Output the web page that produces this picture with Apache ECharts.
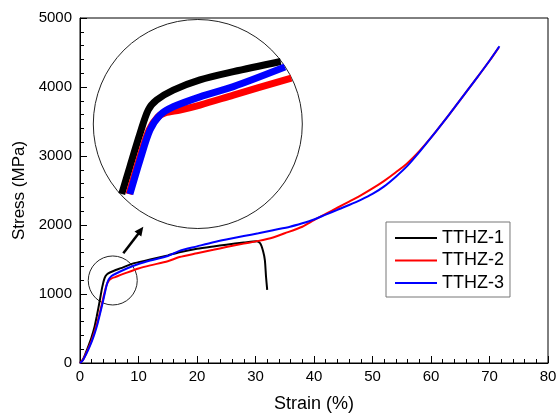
<!DOCTYPE html>
<html>
<head>
<meta charset="utf-8">
<script src="https://cdn.jsdelivr.net/npm/echarts@6/dist/echarts.min.js"></script>
<style>
  html, body { margin: 0; padding: 0; background: #fff; }
  #chart { width: 556px; height: 416px; }
</style>
</head>
<body>
<div id="chart"></div>
<script>
  // [strain %, stress MPa]
  var tthz1 = [[0,0],[0.5,50],[1,150],[1.5,260],[2,380],[2.5,530],[2.85,670],[3.4,913],[3.8,1100],[4.2,1230],
    [4.6,1285],[5.2,1315],[7,1375],[9,1440],[10,1460],[12,1500],[15,1560],[17,1605],[20,1655],[22.8,1690],
    [25,1715],[28,1745],[30.2,1765],[30.8,1735],[31.3,1620],[31.6,1490],[31.8,1250],[32,1060]];
  var tthz2 = [[0,0],[0.5,45],[1,130],[1.5,225],[2,330],[2.5,455],[3,600],[3.5,770],[4,950],[4.5,1120],
    [4.9,1190],[5.4,1225],[6,1245],[8,1310],[10,1370],[12,1415],[15,1475],[17,1535],[20,1590],[22.8,1640],[25,1680],
    [28,1730],[30.5,1770],[33,1820],[35,1880],[38,1975],[40,2070],[42,2160],[44,2250],[46,2340],
    [48,2430],[50,2530],[52,2640],[54,2765],[56,2900],[58,3070],[60,3265],[62,3480],[64,3700],[66,3925],
    [68,4150],[70,4380],[71.6,4575]];
  var tthz3 = [[0,0],[0.5,40],[1,120],[1.5,210],[2,310],[2.5,430],[3,570],[3.5,740],[4,920],[4.5,1110],
    [4.9,1210],[5.4,1260],[6,1290],[8,1370],[10,1435],[12,1485],[15,1550],[17,1625],[20,1690],[22.8,1750],[25,1790],
    [28,1840],[30.5,1880],[33,1925],[35.9,1975],[38,2025],[40,2080],[42,2150],[44,2220],[46,2290],[48,2365],
    [50,2450],[52,2560],[54,2700],[56,2860],[58,3055],[60,3265],[62,3480],[64,3700],[66,3925],[68,4150],
    [70,4380],[71.7,4590]];

  // magnified view inside the big circle
  var inset1 = [[2.52,956],[2.85,1050],[3.26,1164],[3.59,1244],[3.93,1278],[4.6,1312],[5.68,1347],[7.03,1375],[8.94,1410]];
  var inset2 = [[2.81,956],[3.22,1073],[3.62,1175],[3.98,1220],[4.27,1234],[4.87,1244],[5.68,1261],[7.03,1295],[9.37,1353]];
  var inset3 = [[2.85,956],[3.26,1073],[3.66,1175],[4.07,1227],[4.6,1255],[5.68,1289],[7.03,1324],[9.11,1391]];

  var zoomCenter = [5.6, 1196];
  var names = ['TTHZ-1', 'TTHZ-2', 'TTHZ-3'];
  var colors = ['#000000', '#ff0000', '#0000ff'];
  var font = 'Liberation Sans, Arial, sans-serif';

  var chart = echarts.init(document.getElementById('chart'));

  function axisStyle(name, gap, nameSize) {
    return {
      type: 'value',
      name: name,
      nameLocation: 'middle',
      nameGap: gap,
      nameTextStyle: { fontSize: nameSize, color: '#000', fontFamily: font },
      axisLine: { show: true, lineStyle: { color: '#000', width: 1 } },
      axisTick: { show: true, inside: true, length: 7, lineStyle: { color: '#000' } },
      minorTick: { show: true, splitNumber: 5, length: 4, lineStyle: { color: '#000' } },
      axisLabel: { fontSize: 15, color: '#000', fontFamily: font, formatter: function (v) { return String(v); } },
      splitLine: { show: false }
    };
  }

  var xMain = axisStyle('Strain (%)', 32, 18);
  xMain.min = 0; xMain.max = 80; xMain.interval = 10; xMain.gridIndex = 0;
  xMain.axisLabel.margin = 6;
  var yMain = axisStyle('Stress (MPa)', 48, 17);
  yMain.min = 0; yMain.max = 5000; yMain.interval = 1000; yMain.gridIndex = 0;
  yMain.axisLabel.margin = 8;

  function mainSeries(i, data) {
    return {
      name: names[i], type: 'line', data: data,
      xAxisIndex: 0, yAxisIndex: 0,
      symbol: 'none', showSymbol: false,
      smooth: 0.25,
      lineStyle: { width: 2, color: colors[i] },
      itemStyle: { color: colors[i] }
    };
  }
  function insetSeries(i, data) {
    return {
      name: names[i], type: 'line', data: data,
      xAxisIndex: 1, yAxisIndex: 1,
      symbol: 'none', showSymbol: false,
      smooth: 0.3, clip: false,
      lineStyle: { width: 7, color: colors[i], cap: 'butt' },
      itemStyle: { color: colors[i] }
    };
  }

  chart.setOption({
    animation: false,
    grid: [
      { left: 80, top: 18, right: 8, bottom: 53, show: true, borderColor: '#000', borderWidth: 1,
        containLabel: false, outerBoundsMode: 'none' },
      { left: 94, top: 20, width: 208, height: 208, containLabel: false, outerBoundsMode: 'none' }
    ],
    legend: {
      data: names.map(function (n) { return { name: n, icon: 'rect' }; }),
      orient: 'vertical',
      left: 386, top: 222,
      itemWidth: 42, itemHeight: 2, itemGap: 2.5,
      padding: [6, 6, 4, 9],
      borderColor: '#777', borderWidth: 1,
      textStyle: { fontSize: 18, color: '#000', fontFamily: font, lineHeight: 20 },
      selectedMode: false
    },
    xAxis: [xMain, { type: 'value', gridIndex: 1, min: 1.4, max: 9.8, show: false }],
    yAxis: [yMain, { type: 'value', gridIndex: 1, min: 840, max: 1552, show: false }],
    series: [
      mainSeries(0, tthz1), mainSeries(1, tthz2), mainSeries(2, tthz3),
      insetSeries(0, inset1), insetSeries(1, inset2), insetSeries(2, inset3)
    ]
  });

  // circles and arrow
  var c = chart.convertToPixel({ gridIndex: 0 }, zoomCenter);
  chart.setOption({
    graphic: [
      { type: 'circle', shape: { cx: 197.8, cy: 124, r: 104.5 }, style: { fill: 'none', stroke: '#222', lineWidth: 1 } },
      { type: 'circle', shape: { cx: c[0], cy: c[1], r: 24.5 }, style: { fill: 'none', stroke: '#222', lineWidth: 1 } },
      { type: 'line', shape: { x1: 123.3, y1: 253.3, x2: 138.5, y2: 233.5 }, style: { stroke: '#000', lineWidth: 2.5 } },
      { type: 'polygon', shape: { points: [[143.3, 226.7], [141.3, 236.5], [134.5, 231.4]] }, style: { fill: '#000' } }
    ]
  });
</script>
</body>
</html>
